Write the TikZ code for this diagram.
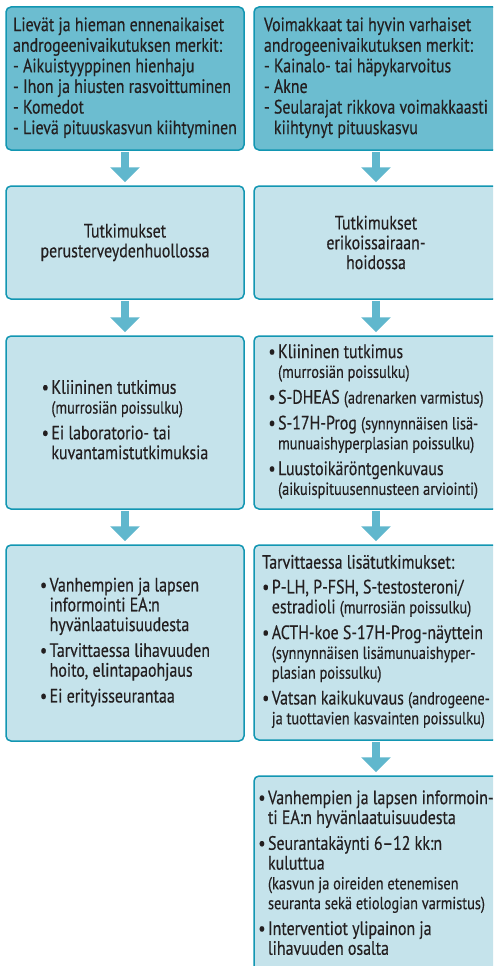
\documentclass[tikz,border=0pt]{standalone}
\usepackage{fontspec}
\setmainfont{PT Sans}[FakeStretch=0.82,FakeBold=0.35]
\usepackage{tikz}
\usetikzlibrary{arrows.meta}
\definecolor{edge}{RGB}{18,150,178}
\definecolor{topfill}{RGB}{108,189,208}
\definecolor{boxfill}{RGB}{197,227,235}
\definecolor{flow}{RGB}{96,183,205}
\definecolor{ink}{RGB}{35,31,32}

\newcommand{\lines}[1]{\begin{tabular}{@{}l@{}}#1\end{tabular}}
\newcommand{\bl}[1]{\textbullet\hspace{2.5pt}\begin{tabular}[t]{@{}l@{}}#1\end{tabular}}
\newcommand{\gap}{\\\noalign{\vskip6pt}}
\newcommand{\sm}[1]{{\fontsize{17.5}{19.5}\selectfont #1}}

\begin{document}
\begin{tikzpicture}[x=1pt,y=-1pt,
        every node/.style={text=ink,font=\fontsize{19.4}{19.8}\selectfont},
        box/.style={draw=edge,line width=1.5pt,rounded corners=5pt,fill=boxfill,inner sep=0pt},
        head/.style={box,fill=topfill,font=\fontsize{19.4}{20.6}\selectfont},
        flowarrow/.style={draw=flow,line width=7.5pt,-{Triangle[width=29pt,length=15pt]},shorten >=3pt,shorten <=1pt}]
    \useasboundingbox (0,0) rectangle (493,966);
    \clip (0,0) rectangle (493,966);

    % vasen sarake
    \node[head,minimum width=238pt,minimum height=143pt] (lievat) at (125,78.5)
        {\lines{Lievät ja hieman ennenaikaiset\\androgeenivaikutuksen merkit:\\- Aikuistyyppinen hienhaju\\- Ihon ja hiusten rasvoittuminen\\- Komedot\\- Lievä pituuskasvun kiihtyminen}};
    \node[box,minimum width=238pt,minimum height=113pt,align=center] (perus) at (125,242.5)
        {Tutkimukset\\perusterveydenhuollossa};
    \node[box,minimum width=238pt,minimum height=173pt] (pklin) at (125,422.5)
        {\lines{\bl{Kliininen tutkimus\\\sm{(murrosiän poissulku)}}\gap
         \bl{Ei laboratorio- tai\\kuvantamistutkimuksia}}};
    \node[box,minimum width=238pt,minimum height=196pt] (pjatko) at (125,643)
        {\lines{\bl{Vanhempien ja lapsen\\informointi EA:n\\hyvänlaatuisuudesta}\gap
         \bl{Tarvittaessa lihavuuden\\hoito, elintapaohjaus}\gap
         \bl{Ei erityisseurantaa}}};

    % oikea sarake
    \node[head,minimum width=244pt,minimum height=143pt] (voimak) at (376,78.5)
        {\lines{Voimakkaat tai hyvin varhaiset\\androgeenivaikutuksen merkit:\\- Kainalo- tai häpykarvoitus\\- Akne\\- Seularajat rikkova voimakkaasti\\\phantom{- }kiihtynyt pituuskasvu}};
    \node[box,minimum width=244pt,minimum height=113pt,align=center] (erik) at (376,242.5)
        {Tutkimukset\\erikoissairaan-\\hoidossa};
    \node[box,minimum width=244pt,minimum height=173pt] (eklin) at (376,422.5)
        {\lines{\bl{Kliininen tutkimus\\\sm{(murrosiän poissulku)}}\gap
         \bl{S-DHEAS \sm{(adrenarken varmistus)}}\gap
         \bl{S-17H-Prog \sm{(synnynnäisen lisä-}\\\sm{munuaishyperplasian poissulku)}}\gap
         \bl{Luustoikäröntgenkuvaus\\\sm{(aikuispituusennusteen arviointi)}}}};
    \node[box,minimum width=244pt,minimum height=195pt] (elisa) at (376,642.5)
        {\lines{Tarvittaessa lisätutkimukset:\\\noalign{\vskip5pt}
         \bl{P-LH, P-FSH, S-testosteroni/\\estradioli \sm{(murrosiän poissulku)}}\gap
         \bl{ACTH-koe S-17H-Prog-näyttein\\\sm{(synnynnäisen lisämunuaishyper-}\\\sm{plasian poissulku)}}\gap
         \bl{Vatsan kaikukuvaus \sm{(androgeene-}\\\sm{ja tuottavien kasvainten poissulku)}}}};
    \node[box,minimum width=244pt,minimum height=199pt] (eseur) at (376,875.5)
        {\lines{\bl{Vanhempien ja lapsen informoin-\\ti EA:n hyvänlaatuisuudesta}\gap
         \bl{Seurantakäynti 6–12 kk:n\\kuluttua\\\sm{(kasvun ja oireiden etenemisen}\\\sm{seuranta sekä etiologian varmistus)}}\gap
         \bl{Interventiot ylipainon ja\\lihavuuden osalta}}};

    \foreach \a/\b in {lievat/perus,perus/pklin,pklin/pjatko,voimak/erik,erik/eklin,eklin/elisa,elisa/eseur}
        \draw[flowarrow] (\a) -- (\b);
\end{tikzpicture}
\end{document}
